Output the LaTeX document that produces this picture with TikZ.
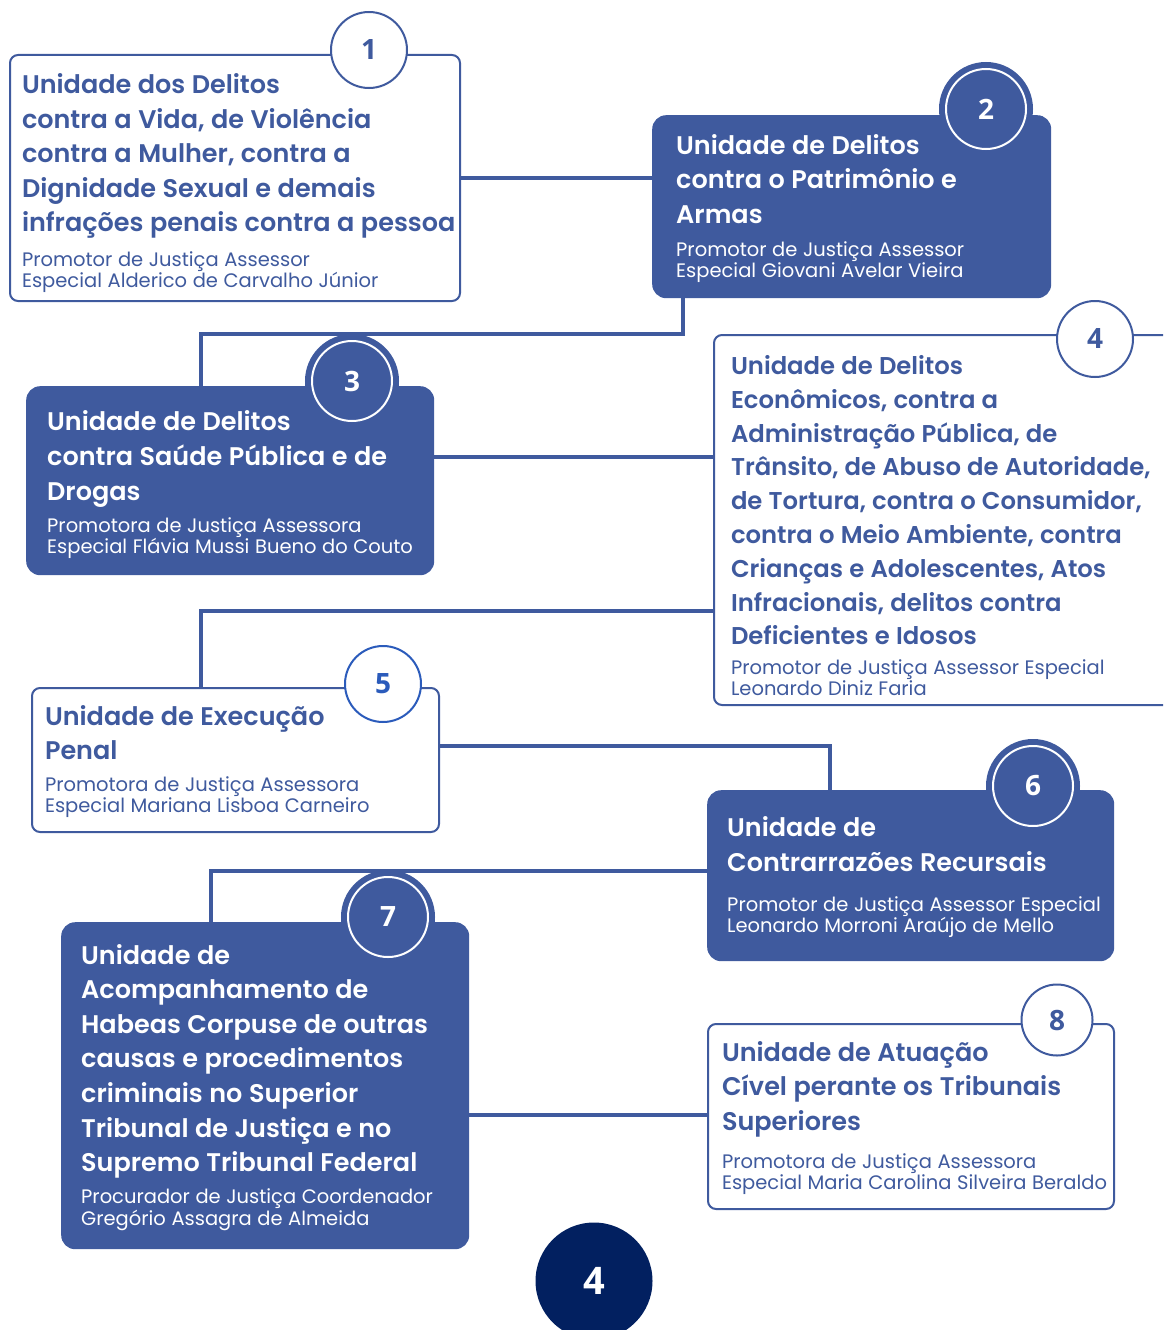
\documentclass[tikz,border=0pt]{standalone}
\usepackage{fontspec}
\setmainfont{Poppins}[BoldFont={Poppins SemiBold}]
\newfontfamily\numfont{Open Sans}
\usepackage{tikz}

\definecolor{unitblue}{RGB}{63,90,158}
\definecolor{ringblue}{RGB}{43,91,187}
\definecolor{pagenavy}{RGB}{2,32,96}

\newcommand\headsize{25.5}
\newcommand\unithead[2][34.6]{{\fontsize{\headsize}{#1}\selectfont\bfseries\spaceskip=0.255em
  \begin{tabular}{@{}l@{}}#2\end{tabular}\par}}
\newcommand\unitname[2][6pt]{{\vskip#1\fontsize{19.5}{20.5}\selectfont\spaceskip=0.285em
  \begin{tabular}{@{}l@{}}#2\end{tabular}\par}}

\begin{document}
\begin{tikzpicture}[x=1pt,y=1pt,yscale=-1,
  link/.style={draw=unitblue,line width=3.5pt},
  outbox/.style={draw=unitblue,line width=2pt,rounded corners=8pt,fill=white,text=unitblue,
    align=left,anchor=north west,inner ysep=0pt},
  fillbox/.style={fill=unitblue,rounded corners=14pt,text=white,
    align=left,anchor=north west,inner ysep=0pt},
  outnum/.style={circle,draw=unitblue,line width=2pt,fill=white,minimum size=76pt,inner sep=0pt,
    text=unitblue,font=\numfont\bfseries\fontsize{28}{28}\selectfont},
  fillnum/.style={circle,draw=white,line width=2pt,fill=unitblue,minimum size=80pt,inner sep=0pt,
    preaction={draw=unitblue,line width=14pt},
    text=white,font=\numfont\bfseries\fontsize{28}{28}\selectfont}]
\useasboundingbox (0,0) rectangle (1163,1330);
\clip (0,0) rectangle (1163,1330);

% Unit boxes
\node[outbox,text width=426pt,inner xsep=12pt,minimum height=246pt] (u1) at (9,54)
  {\vskip6pt\unithead{Unidade dos Delitos\\contra a Vida, de Violência\\contra a Mulher, contra a\\Dignidade Sexual e demais\\infrações penais contra a pessoa}
   \unitname[8pt]{Promotor de Justiça Assessor\\Especial Alderico de Carvalho Júnior}};
\node[fillbox,text width=351pt,inner xsep=24pt,minimum height=183pt] (u2) at (652,115)
  {\unithead{Unidade de Delitos\\contra o Patrimônio e\\Armas}
   \unitname[7pt]{Promotor de Justiça Assessor\\Especial Giovani Avelar Vieira}};
\node[fillbox,text width=366pt,inner xsep=21pt,minimum height=189pt] (u3) at (26,386)
  {\vskip4pt\unithead{Unidade de Delitos\\contra Saúde Pública e de\\Drogas}
   \unitname{Promotora de Justiça Assessora\\Especial Flávia Mussi Bueno do Couto}};
\node[outbox,text width=443pt,inner xsep=17pt,minimum height=370pt] (u4) at (713,334)
  {\renewcommand\headsize{24.3}\vskip12pt
   \unithead[33.8]{Unidade de Delitos\\Econômicos, contra a\\Administração Pública, de\\Trânsito, de Abuso de Autoridade,\\de Tortura, contra o Consumidor,\\contra o Meio Ambiente, contra\\Crianças e Adolescentes, Atos\\Infracionais, delitos contra\\Deficientes e Idosos}
   \unitname[4pt]{Promotor de Justiça Assessor Especial\\Leonardo Diniz Faria}};
\node[outbox,text width=381pt,inner xsep=13pt,minimum height=144pt] (u5) at (31,687)
  {\unithead{Unidade de Execução\\Penal}
   \unitname{Promotora de Justiça Assessora\\Especial Mariana Lisboa Carneiro}};
\node[fillbox,text width=367pt,inner xsep=20pt,minimum height=171pt] (u6) at (707,790)
  {\unithead{Unidade de\\Contrarrazões Recursais}
   \unitname[14pt]{Promotor de Justiça Assessor Especial\\Leonardo Morroni Araújo de Mello}};
\node[fillbox,text width=368pt,inner xsep=20pt,minimum height=327pt] (u7) at (61,922)
  {\unithead{Unidade de\\Acompanhamento de\\Habeas Corpuse de outras\\causas e procedimentos\\criminais no Superior\\Tribunal de Justiça e no\\Supremo Tribunal Federal}
   \unitname{Procurador de Justiça Coordenador\\Gregório Assagra de Almeida}};
\node[outbox,text width=378pt,inner xsep=14pt,minimum height=185pt] (u8) at (707,1023)
  {\unithead{Unidade de Atuação\\Cível perante os Tribunais\\Superiores}
   \unitname[12pt]{Promotora de Justiça Assessora\\Especial Maria Carolina Silveira Beraldo}};

% Connectors
\draw[link] (u1.east |- 0,178) -- (u2.west |- 0,178);
\draw[link] (u2.south -| 683,0) -- (683,334) -| (u3.north -| 201,0);
\draw[link] (u3.east |- 0,457) -- (u4.west |- 0,457);
\draw[link] (u4.west |- 0,611) -| (u5.north -| 201,0);
\draw[link] (u5.east |- 0,746) -| (u6.north -| 830,0);
\draw[link] (u6.west |- 0,871) -| (u7.north -| 211,0);
\draw[link] (u7.east |- 0,1115) -- (u8.west |- 0,1115);

% Number badges
\node[outnum] (n1) at (369,50) {1};
\node[fillnum] (n2) at (986,109) {2};
\node[fillnum] (n3) at (352,381) {3};
\node[outnum] (n4) at (1095,339) {4};
\node[outnum,draw=ringblue,text=ringblue] (n5) at (383,684) {5};
\node[fillnum] (n6) at (1033,786) {6};
\node[fillnum] (n7) at (388,917) {7};
\node[outnum,minimum size=71pt] (n8) at (1057,1020) {8};

% Page number
\node[circle,fill=pagenavy,minimum size=117pt,text=white,
  font=\numfont\bfseries\fontsize{38}{38}\selectfont] (pg) at (594,1281) {4};

\end{tikzpicture}
\end{document}
